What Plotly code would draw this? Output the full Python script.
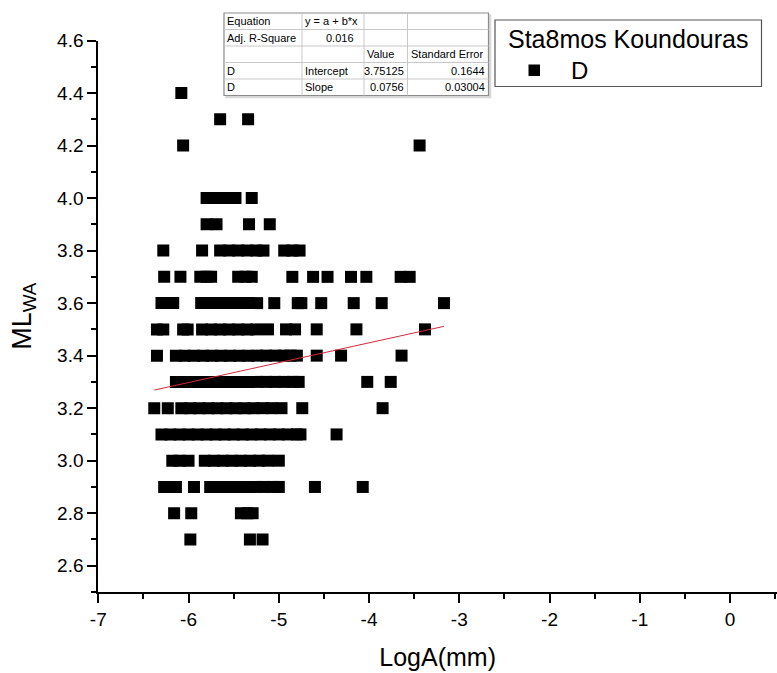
import plotly.graph_objects as go

# ---- data: ML_WA levels and the LogA(mm) values recorded at each level ----
ml_levels = [4.4, 4.3, 4.2, 4.0, 3.9, 3.8, 3.7, 3.6, 3.5, 3.4, 3.3, 3.2, 3.1, 3.0, 2.9, 2.8, 2.7]

loga_44 = [-6.08]
loga_43 = [-5.65, -5.34]
loga_42 = [-6.06, -3.44]
loga_40 = [-5.80, -5.70, -5.60, -5.48, -5.30]
loga_39 = [-5.80, -5.69, -5.33, -5.10]
loga_38 = [-6.28, -5.85, -5.65, -5.55, -5.45, -5.35, -5.25, -5.17, -4.94, -4.85, -4.77]
loga_37 = [-6.27, -6.09, -5.87, -5.80, -5.75, -5.45, -5.37, -5.30, -4.85, -4.62,
           -4.46, -4.20, -4.03, -3.65, -3.55]
loga_36 = [-6.30, -6.23, -6.17, -5.86, -5.76, -5.66, -5.56, -5.46, -5.36, -5.24,
           -5.05, -4.79, -4.75, -4.53, -4.17, -3.86, -3.17]
loga_35 = [-6.35, -6.28, -6.06, -6.01, -5.85, -5.75, -5.65, -5.55, -5.45, -5.35,
           -5.25, -5.12, -4.92, -4.82, -4.58, -4.14, -3.38]
loga_34 = [-6.35, -6.14, -6.04, -5.94, -5.84, -5.74, -5.64, -5.54, -5.44, -5.34,
           -5.24, -5.14, -5.04, -4.94, -4.87, -4.80, -4.58, -4.31, -3.64]
loga_33 = [-6.14, -6.04, -5.94, -5.84, -5.74, -5.64, -5.54, -5.44, -5.34, -5.24,
           -5.14, -5.04, -4.94, -4.84, -4.78, -4.02, -3.76]
loga_32 = [-6.38, -6.23, -6.08, -5.98, -5.88, -5.78, -5.68, -5.58, -5.48, -5.38,
           -5.28, -5.18, -5.08, -4.97, -4.74, -3.85]
loga_31 = [-6.30, -6.20, -6.10, -6.00, -5.90, -5.80, -5.70, -5.60, -5.50, -5.40,
           -5.30, -5.20, -5.10, -5.00, -4.90, -4.80, -4.76, -4.36]
loga_30 = [-6.18, -6.10, -6.00, -5.82, -5.72, -5.62, -5.52, -5.42, -5.32, -5.22,
           -5.12, -5.00]
loga_29 = [-6.27, -6.20, -6.14, -5.94, -5.76, -5.66, -5.56, -5.46, -5.36, -5.26,
           -5.16, -5.06, -5.00, -4.60, -4.07]
loga_28 = [-6.16, -5.97, -5.42, -5.35, -5.29]
loga_27 = [-5.98, -5.32, -5.18]

loga_rows = [loga_44, loga_43, loga_42, loga_40, loga_39, loga_38, loga_37, loga_36,
             loga_35, loga_34, loga_33, loga_32, loga_31, loga_30, loga_29, loga_28, loga_27]

# linear fit results (y = a + b*x)
fit_intercept = 3.75125
fit_slope = 0.0756
fit_intercept_se = 0.1644
fit_slope_se = 0.03004
adj_r_square = 0.016

x_ticks = [-7, -6, -5, -4, -3, -2, -1, 0]
y_ticks = [2.6, 2.8, 3.0, 3.2, 3.4, 3.6, 3.8, 4.0, 4.2, 4.4, 4.6]

# ---- assemble the points ----
xs, ys = [], []
for level, row in zip(ml_levels, loga_rows):
    xs.extend(row)
    ys.extend([level] * len(row))

x_fit = [min(xs), max(xs)]
y_fit = [fit_intercept + fit_slope * v for v in x_fit]

W, H = 777, 673
FONT = "Arial, 'Liberation Sans', sans-serif"


def px(x):
    return x / W


def py(y):
    return 1 - y / H


fig = go.Figure()
fig.add_trace(go.Scatter(
    x=xs, y=ys, mode="markers", name="D", showlegend=False,
    marker=dict(symbol="square", size=12, color="black", line=dict(width=0)),
))
fig.add_trace(go.Scatter(
    x=x_fit, y=y_fit, mode="lines", showlegend=False,
    line=dict(color="#d8283a", width=1),
))

shapes = []
annotations = []

# ---- fit results table ----
col_edges = [224, 302, 364, 407.5, 488.5]
row_edges = [13, 29.5, 46, 62.5, 79, 95.5]
line_grey = "#c8c8c8"
# soft shadow on right and bottom, then white body with outer border
shapes.append(dict(type="rect", xref="paper", yref="paper",
                   x0=px(col_edges[0] + 2), x1=px(col_edges[-1] + 2),
                   y0=py(row_edges[0] + 2), y1=py(row_edges[-1] + 2),
                   line=dict(color="#d8d8d8", width=1.5), fillcolor="#d8d8d8"))
shapes.append(dict(type="rect", xref="paper", yref="paper",
                   x0=px(col_edges[0]), x1=px(col_edges[-1]),
                   y0=py(row_edges[0]), y1=py(row_edges[-1]),
                   line=dict(color="#8c8c8c", width=1.2), fillcolor="white"))
for xe in col_edges[1:-1]:
    shapes.append(dict(type="line", xref="paper", yref="paper",
                       x0=px(xe), x1=px(xe), y0=py(row_edges[0]), y1=py(row_edges[-1]),
                       line=dict(color=line_grey, width=1)))
for ye in row_edges[1:-1]:
    shapes.append(dict(type="line", xref="paper", yref="paper",
                       x0=px(col_edges[0]), x1=px(col_edges[-1]), y0=py(ye), y1=py(ye),
                       line=dict(color=line_grey, width=1)))

table_cells = [
    (0, 0, "Equation", "left"), (0, 1, "y = a + b*x", "left"),
    (1, 0, "Adj. R-Square", "left"), (1, 1, f"{adj_r_square:.3f}", "right"),
    (2, 2, "Value", "left"), (2, 3, "Standard Error", "left"),
    (3, 0, "D", "left"), (3, 1, "Intercept", "left"),
    (3, 2, f"{fit_intercept}", "right"), (3, 3, f"{fit_intercept_se}", "right"),
    (4, 0, "D", "left"), (4, 1, "Slope", "left"),
    (4, 2, f"{fit_slope}", "right"), (4, 3, f"{fit_slope_se}", "right"),
]
for r, c, text, align in table_cells:
    yc = (row_edges[r] + row_edges[r + 1]) / 2
    if align == "left":
        xa, anchor = col_edges[c] + 1, "left"
    else:
        pad = 8 if c == 1 else 2
        xa, anchor = col_edges[c + 1] - pad, "right"
    annotations.append(dict(xref="paper", yref="paper", x=px(xa), y=py(yc),
                            xanchor=anchor, yanchor="middle", text=text, showarrow=False,
                            font=dict(family=FONT, size=11, color="black")))

# ---- legend box ----
shapes.append(dict(type="rect", xref="paper", yref="paper",
                   x0=px(495), x1=px(761.5), y0=py(20), y1=py(86.5),
                   line=dict(color="#555555", width=1.2), fillcolor="white"))
shapes.append(dict(type="rect", xref="paper", yref="paper",
                   x0=px(528.5), x1=px(540), y0=py(64.5), y1=py(76),
                   line=dict(width=0), fillcolor="black"))
annotations.append(dict(xref="paper", yref="paper", x=px(628), y=py(38.5),
                        xanchor="center", yanchor="middle", text="Sta8mos Koundouras",
                        showarrow=False, font=dict(family=FONT, size=25, color="black")))
annotations.append(dict(xref="paper", yref="paper", x=px(569), y=py(70.5),
                        xanchor="left", yanchor="middle", text="D",
                        showarrow=False, font=dict(family=FONT, size=24, color="black")))

axis_common = dict(
    showline=True, linecolor="black", linewidth=2, mirror=False, automargin=False,
    showgrid=False, zeroline=False, ticks="outside", tickcolor="black",
    tickwidth=2, ticklen=9,
    tickfont=dict(family=FONT, size=19, color="black"),
)

fig.update_layout(
    width=W, height=H,
    margin=dict(l=0, r=0, t=0, b=0, autoexpand=False),
    paper_bgcolor="white", plot_bgcolor="white",
    showlegend=False,
    xaxis=dict(
        **axis_common,
        domain=[px(98.3), 1.0], range=[-7, 0.52],
        tickvals=x_ticks, ticktext=[str(v) for v in x_ticks],
        minor=dict(ticks="outside", dtick=0.5, tick0=-7, ticklen=5, tickwidth=2,
                   tickcolor="black", showgrid=False),
        title=dict(text="LogA(mm)", standoff=20,
                   font=dict(family=FONT, size=25, color="black")),
    ),
    yaxis=dict(
        **axis_common,
        domain=[py(592), py(40.5)], range=[2.5, 4.6],
        tickvals=y_ticks, ticktext=[f"{v:.1f}" for v in y_ticks],
        minor=dict(ticks="outside", dtick=0.1, tick0=2.5, ticklen=5, tickwidth=2,
                   tickcolor="black", showgrid=False),
        title=dict(text="ML<sub>WA</sub>", standoff=18,
                   font=dict(family=FONT, size=27, color="black")),
    ),
    shapes=shapes,
    annotations=annotations,
)

fig.write_html("out.html")
